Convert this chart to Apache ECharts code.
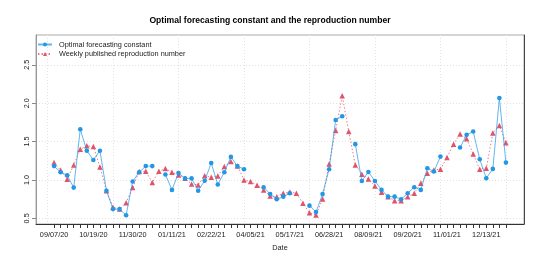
<!DOCTYPE html>
<html><head><meta charset="utf-8">
<script src="https://cdn.jsdelivr.net/npm/echarts@6/dist/echarts.min.js"></script>
<style>html,body{margin:0;padding:0;background:#fff}#c{width:540px;height:270px}</style>
</head><body><div id="c"></div>
<script>
const startDate = '2020-09-07';
const weekIndex = Array.from({length: 70}, (_, i) => i);
const optimalConstant = [1.18,1.10,1.06,0.90,1.66,1.38,1.26,1.38,0.86,0.62,
  0.62,0.54,0.98,1.10,1.18,1.18,null,1.07,0.87,1.09,
  1.02,1.02,0.86,0.99,1.22,0.94,1.10,1.30,1.18,1.14,
  null,null,0.905,0.817,0.748,0.782,0.826,null,null,0.665,
  0.582,0.817,1.14,1.78,1.83,null,1.466,0.987,1.104,0.987,
  0.87,0.782,0.782,0.748,0.826,0.905,0.87,1.153,1.109,1.304,
  null,null,1.422,1.587,1.631,1.27,1.022,1.144,2.067,1.226];
const reproductionNumber = [1.226,1.126,1.01,1.196,1.40,1.444,1.435,1.17,0.86,0.643,
  0.62,0.704,0.90,1.109,1.113,0.965,1.113,1.148,1.10,1.065,
  1.022,0.946,0.935,1.056,1.035,1.052,1.174,1.239,1.183,1.0,
  0.978,0.931,0.87,0.791,0.782,0.826,0.843,0.826,0.696,0.573,
  0.543,0.752,1.209,1.644,2.097,1.631,1.196,1.074,1.013,0.922,
  0.839,0.782,0.73,0.73,0.782,0.826,0.957,1.087,1.131,1.14,
  1.291,1.466,1.60,1.535,1.339,1.14,1.153,1.61,1.709,1.483];
const labelWeeks = [0,6,12,18,24,30,36,42,48,54,60,66];
const gridWeeks = [-1,9,19,29,39,49,59,69];
const yTicks = [0.5,1.0,1.5,2.0,2.5];

function weekLabel(i){
  const d = new Date(startDate + 'T00:00:00Z');
  d.setUTCDate(d.getUTCDate() + 7*Math.round(i));
  const mm = String(d.getUTCMonth()+1).padStart(2,'0');
  const dd = String(d.getUTCDate()).padStart(2,'0');
  const yy = String(d.getUTCFullYear()%100).padStart(2,'0');
  return mm + '/' + dd + '/' + yy;
}

const n = weekIndex.length;
const pad = (n-1)*0.04;
const xMin = -pad, xMax = (n-1)+pad;
const FONT = 'Liberation Sans, Arial, sans-serif';

const chart = echarts.init(document.getElementById('c'), null, {renderer:'canvas'});
chart.setOption({
  animation: false,
  backgroundColor: '#fff',
  title: {text: 'Optimal forecasting constant and the reproduction number', left: 'center', top: 16, padding: 0,
    textStyle: {fontFamily: FONT, fontSize: 8.6, fontWeight: 'bold', color: '#000'}},
  grid: {left: 36, right: 16, top: 35, bottom: 46, show: true, borderColor: '#aaa', borderWidth: 1, backgroundColor: 'transparent'},
  legend: {orient: 'vertical', left: 37, top: 41, padding: 0, itemWidth: 14, itemHeight: 5, itemGap: 2.5,
    textStyle: {fontFamily: FONT, fontSize: 7.3, color: '#222', padding: [0,0,0,2]},
    data: ['Optimal forecasting constant', 'Weekly published reproduction number']},
  xAxis: [
    {type: 'value', min: xMin, max: xMax, position: 'bottom',
      axisLine: {show: false, onZero: false}, axisLabel: {show: false},
      axisTick: {show: false, customValues: gridWeeks},
      splitLine: {show: true, lineStyle: {color: '#e2e2e2', type: [1,2], width: 1}}},
    {type: 'value', min: xMin, max: xMax, position: 'bottom', gridIndex: 0,
      axisLine: {show: true, onZero: false, lineStyle: {color: '#333', width: 1}},
      axisTick: {show: true, length: 4, customValues: weekIndex, lineStyle: {color: '#333'}},
      axisLabel: {show: true, customValues: labelWeeks, formatter: v => weekLabel(v), margin: 7,
        fontFamily: FONT, fontSize: 7.3, color: '#222'},
      splitLine: {show: false},
      name: 'Date', nameLocation: 'middle', nameGap: 20,
      nameTextStyle: {fontFamily: FONT, fontSize: 7.3, color: '#222'}}
  ],
  yAxis: [
    {type: 'value', min: 0.426, max: 2.888, position: 'left',
      axisLine: {show: true, onZero: false, lineStyle: {color: '#999'}},
      axisTick: {show: true, length: 4, customValues: yTicks, lineStyle: {color: '#888'}},
      axisLabel: {show: true, customValues: yTicks, rotate: 90, margin: 6, formatter: v => v.toFixed(1),
        fontFamily: FONT, fontSize: 7.3, color: '#222'},
      splitLine: {show: true, lineStyle: {color: '#e2e2e2', type: [1,2], width: 1}}},
    {type: 'value', min: 0.426, max: 2.888, position: 'right',
      axisLine: {show: true, onZero: false, lineStyle: {color: '#444'}},
      axisTick: {show: false}, axisLabel: {show: false}, splitLine: {show: false}}
  ],
  series: [
    {name: 'Optimal forecasting constant', type: 'line', xAxisIndex: 0, yAxisIndex: 0,
      data: weekIndex.map((i) => [i, optimalConstant[i]]), connectNulls: false,
      symbol: 'circle', symbolSize: 4.6, showSymbol: true,
      itemStyle: {color: '#2297E6'},
      lineStyle: {color: 'rgba(34,151,230,0.7)', width: 1}, z: 3},
    {name: 'Weekly published reproduction number', type: 'line', xAxisIndex: 0, yAxisIndex: 0,
      data: weekIndex.map((i) => [i, reproductionNumber[i]]),
      symbol: 'triangle', symbolSize: 5.5, showSymbol: true,
      itemStyle: {color: '#DF536B'},
      lineStyle: {color: 'rgba(223,83,107,0.75)', width: 1, type: [1.5,2]}, z: 2}
  ]
});
</script></body></html>
